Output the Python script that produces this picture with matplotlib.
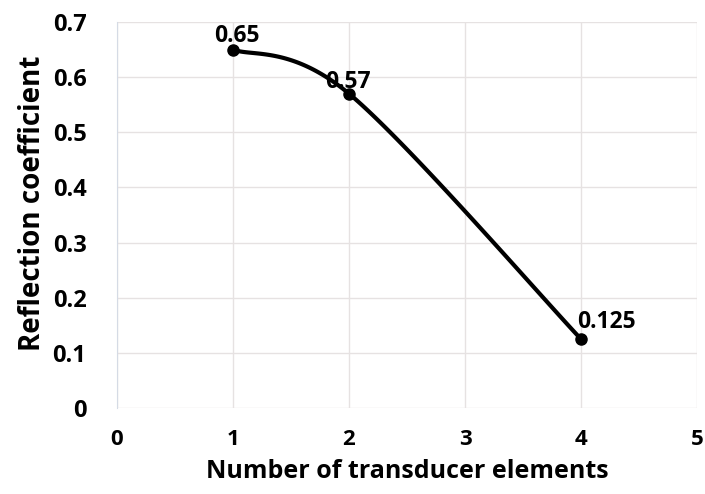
import numpy as np
from matplotlib import pyplot as plt

elements = [1, 2, 4]
reflection = [0.65, 0.57, 0.125]
labels = ["0.65", "0.57", "0.125"]

plt.rcParams["font.family"] = ["Open Sans", "DejaVu Sans"]
plt.rcParams["font.weight"] = "bold"


def excel_smooth(x, y, n=60):
    # Bezier curve through the points, like Excel's "smoothed line"
    x = np.asarray(x, float)
    y = np.asarray(y, float)
    px = np.concatenate([[x[0]], x, [x[-1]]])
    py = np.concatenate([[y[0]], y, [y[-1]]])
    xs, ys = [], []
    t = np.linspace(0, 1, n)
    for i in range(1, len(px) - 2):
        p0 = np.array([px[i], py[i]])
        p3 = np.array([px[i + 1], py[i + 1]])
        p1 = p0 + (np.array([px[i + 1], py[i + 1]]) - np.array([px[i - 1], py[i - 1]])) / 6
        p2 = p3 - (np.array([px[i + 2], py[i + 2]]) - np.array([px[i], py[i]])) / 6
        b = ((1 - t) ** 3)[:, None] * p0 + (3 * (1 - t) ** 2 * t)[:, None] * p1 \
            + (3 * (1 - t) * t ** 2)[:, None] * p2 + (t ** 3)[:, None] * p3
        xs.extend(b[:, 0])
        ys.extend(b[:, 1])
    return np.array(xs), np.array(ys)


fig = plt.figure(figsize=(7.05, 4.94), dpi=100)
ax = fig.add_axes([117 / 705, 1 - 408 / 494, 580 / 705, 386 / 494])

sx, sy = excel_smooth(elements, reflection)
ax.plot(sx, sy, "-", color="black", lw=3, zorder=3)
ax.plot(elements, reflection, "o", color="black", ms=8, zorder=4)

offsets = [(3, 1), (-1, 0), (18, 4)]
for xv, yv, lab, off in zip(elements, reflection, labels, offsets):
    ax.annotate(lab, (xv, yv), xytext=off, textcoords="offset points",
                ha="center", va="bottom", fontsize=16.5, fontweight="bold")

ax.set_xlim(0, 5)
ax.set_ylim(0, 0.7)
ax.set_xticks([0, 1, 2, 3, 4, 5])
ax.set_yticks([0, 0.1, 0.2, 0.3, 0.4, 0.5, 0.6, 0.7])
ax.set_yticklabels(["0", "0.1", "0.2", "0.3", "0.4", "0.5", "0.6", "0.7"])
ax.grid(True, color="#e6e2e2", lw=1)
ax.set_axisbelow(True)
for s in ax.spines.values():
    s.set_visible(False)
ax.spines["left"].set_visible(True)
ax.spines["left"].set_color("#d5dbe5")
ax.tick_params(length=0, labelsize=17)
ax.tick_params(axis="y", pad=22)
ax.tick_params(axis="x", labelsize=16, pad=15)
ax.set_xlabel("Number of transducer elements", fontsize=18, fontweight="bold")
ax.set_ylabel("Reflection coefficient", fontsize=20, fontweight="bold")
ax.xaxis.set_label_coords(0.5, -0.133)
ax.yaxis.set_label_coords(-0.12, 0.53)

fig.savefig("out.png", dpi=100)
